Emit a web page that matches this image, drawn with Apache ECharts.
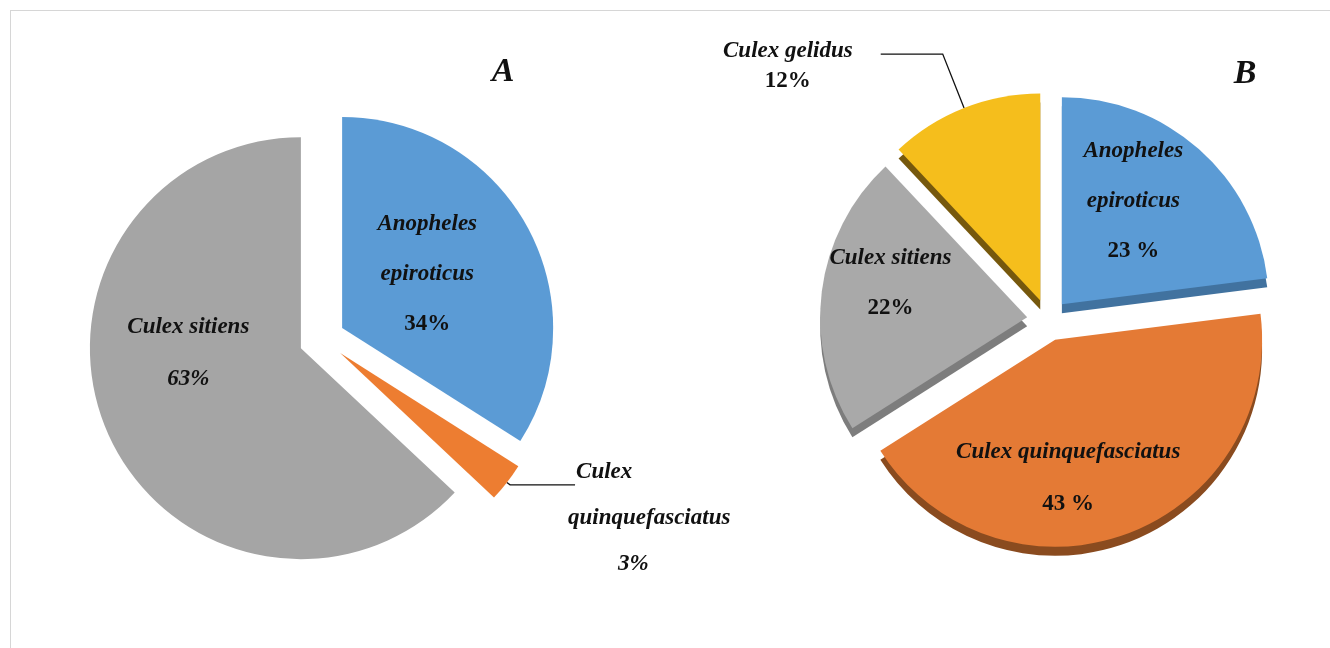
<!DOCTYPE html>
<html>
<head>
<meta charset="utf-8">
<title>Mosquito species composition A / B</title>
<script src="https://cdn.jsdelivr.net/npm/echarts@6/dist/echarts.min.js"></script>
<style>
    html, body { margin: 0; padding: 0; background: #fff; }
    #frame {
        position: absolute; left: 10px; top: 10px; right: 0; bottom: 0; z-index: 2;
        border-top: 1px solid #d6d6d6; border-left: 1px solid #d6d6d6; pointer-events: none;
    }
    #chart { position: absolute; left: 0; top: 0; width: 1330px; height: 648px; }
</style>
</head>
<body>
<div id="frame"></div>
<div id="chart"></div>
<script>
// panel A
const namesA = ['Anopheles\nepiroticus', 'Culex\nquinquefasciatus', 'Culex sitiens'];
const valuesA = [34, 3, 63];
const pctA = ['34%', '3%', '63%'];

// panel B
const namesB = ['Anopheles\nepiroticus', 'Culex quinquefasciatus', 'Culex sitiens', 'Culex gelidus'];
const valuesB = [23, 43, 22, 12];
const pctB = ['23 %', '43 %', '22%', '12%'];

const panelTitles = ['A', 'B'];

// colours
const colorsA = ['#5b9bd5', '#ed7d31', '#a5a5a5'];
const colorsB = ['#5b9bd5', '#e47a35', '#a9a9a9', '#f5be1c'];
const sideB = ['#41729f', '#8a4b1f', '#7d7d7d', '#76580d'];

const FONT = '"Liberation Serif", "Times New Roman", serif';

// label placement per slice (shift = nudge from the default inside spot)
const labelCfgA = [
    { shift: [-10, -2], lineHeight: 50, pctItalic: false },
    { outside: true, lineHeight: 46, pctItalic: true, lift: 66, gap: -7,
      linePad: [[0, 0, 0, 8], 0, [0, 0, 0, 50]], length: 4, length2: 65 },
    { shift: [-13, -38], lineHeight: 52, pctItalic: true }
];
const labelCfgB = [
    { shift: [1, -23], lineHeight: 50, pctItalic: false },
    { shift: [-23, 38], lineHeight: 52, pctItalic: false },
    { shift: [-31, -21], lineHeight: 50, pctItalic: false },
    { outside: true, lineHeight: 30, pctItalic: false, lift: 24, gap: 28,
      linePad: [0, [0, 42, 0, 0]], length: 58, length2: 62 }
];

function buildLabel(name, pct, cfg) {
    const lines = name.split('\n').concat(pct);
    const rich = {};
    const parts = lines.map(function (txt, i) {
        const isPct = i === lines.length - 1;
        rich['l' + i] = {
            fontFamily: FONT,
            fontSize: 23,
            fontWeight: 'bold',
            fontStyle: (isPct && !cfg.pctItalic) ? 'normal' : 'italic',
            color: '#111',
            lineHeight: cfg.lineHeight,
            padding: cfg.linePad ? cfg.linePad[i] : 0
        };
        return '{l' + i + '|' + txt + '}';
    });
    const label = { show: true, formatter: parts.join('\n'), rich: rich, color: '#111' };
    if (cfg.outside) {
        label.position = 'outside';
        label.distanceToLabelLine = cfg.gap;
        label.padding = [cfg.lift, 0, 0, 0];
    } else {
        label.position = 'inside';
        const dx = cfg.shift[0], dy = cfg.shift[1];
        label.padding = [Math.max(0, 2 * dy), Math.max(0, -2 * dx), Math.max(0, -2 * dy), Math.max(0, 2 * dx)];
    }
    return label;
}

function buildData(names, values, pcts, colors, cfgs) {
    return names.map(function (n, i) {
        const cfg = cfgs[i];
        return {
            name: n,
            value: values[i],
            selected: true,
            itemStyle: { color: colors[i] },
            label: buildLabel(n, pcts[i], cfg),
            labelLine: cfg.outside ? {
                show: true,
                length: cfg.length,
                length2: cfg.length2,
                lineStyle: { color: '#111', width: 1.3 }
            } : { show: false }
        };
    });
}

const pieBase = {
    type: 'pie',
    startAngle: 90,
    clockwise: true,
    selectedMode: 'multiple',
    avoidLabelOverlap: false,
    label: { show: false },
    labelLine: { show: false },
    itemStyle: { borderWidth: 0 },
    select: { itemStyle: { borderWidth: 0 } },
    emphasis: { disabled: true }
};

const chart = echarts.init(document.getElementById('chart'));

chart.setOption({
    backgroundColor: '#fff',
    animation: false,
    graphic: [
        { type: 'text', x: 503, y: 72, style: { text: panelTitles[0], font: 'italic bold 34px ' + FONT, fill: '#111', align: 'center', verticalAlign: 'middle' } },
        { type: 'text', x: 1245, y: 74, style: { text: panelTitles[1], font: 'italic bold 34px ' + FONT, fill: '#111', align: 'center', verticalAlign: 'middle' } }
    ],
    series: [
        Object.assign({}, pieBase, {
            name: 'A',
            center: [322, 339],
            radius: 211,
            selectedOffset: 23,
            data: buildData(namesA, valuesA, pctA, colorsA, labelCfgA)
        }),
        // side of the tilted pie B, drawn a few px lower
        Object.assign({}, pieBase, {
            name: 'B side',
            silent: true,
            center: [1048, 329],
            radius: 207,
            selectedOffset: 21,
            data: namesB.map(function (n, i) {
                return { name: n, value: valuesB[i], selected: true, itemStyle: { color: sideB[i] } };
            })
        }),
        Object.assign({}, pieBase, {
            name: 'B',
            center: [1048, 320],
            radius: 207,
            selectedOffset: 21,
            data: buildData(namesB, valuesB, pctB, colorsB, labelCfgB)
        })
    ]
});
</script>
</body>
</html>
